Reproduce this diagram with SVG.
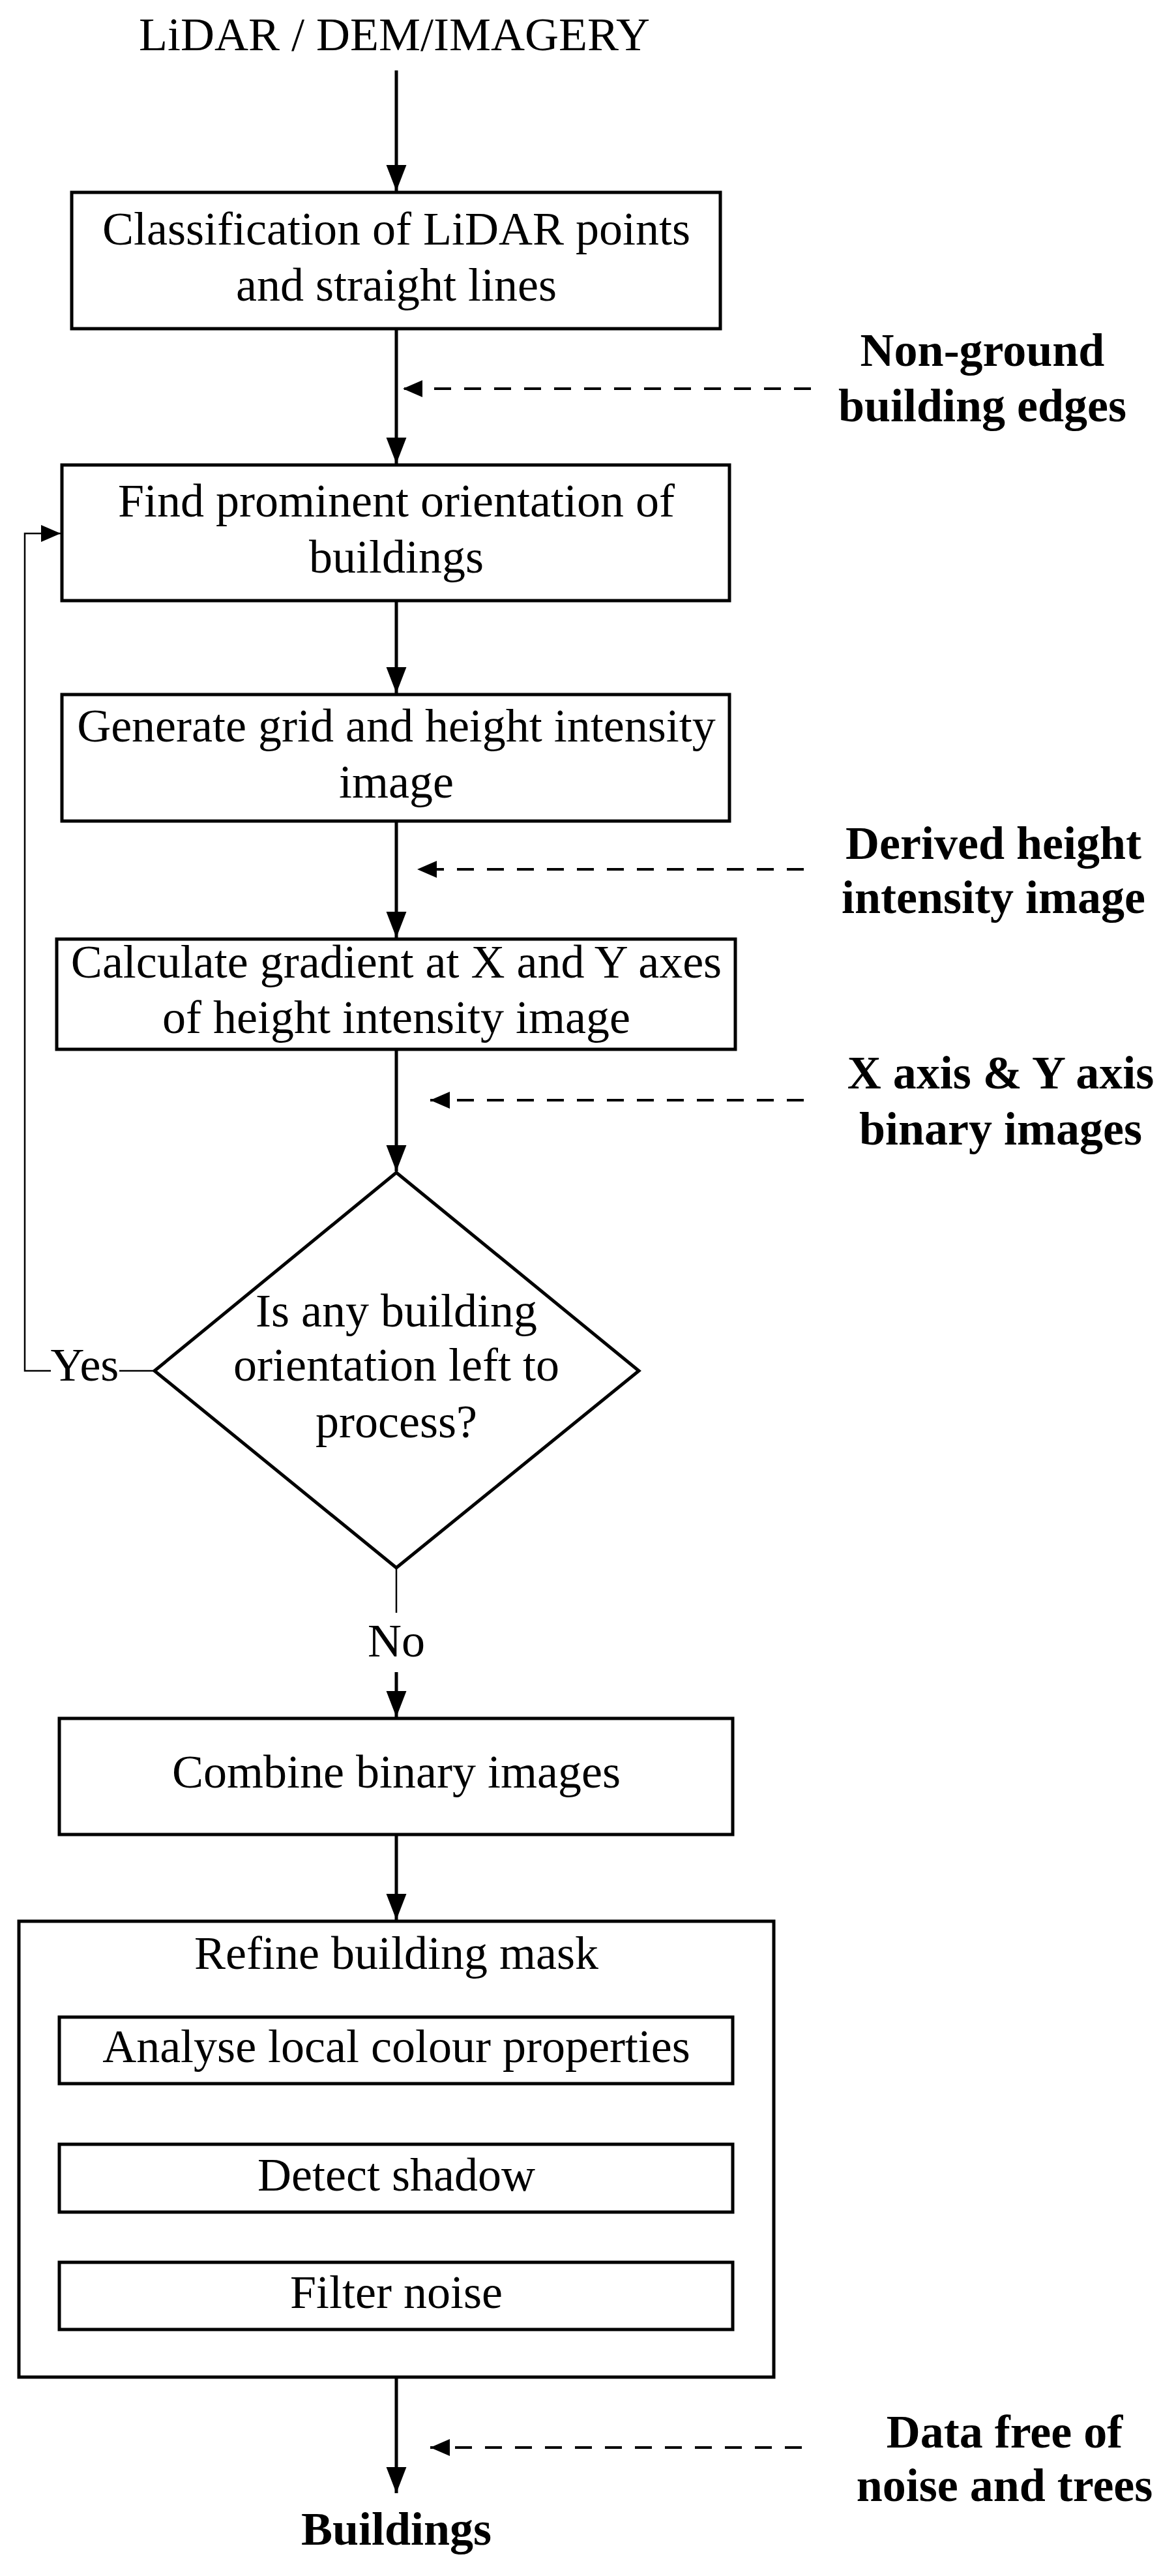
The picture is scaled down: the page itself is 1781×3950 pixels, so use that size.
<svg xmlns="http://www.w3.org/2000/svg" width="1781" height="3950" viewBox="0 0 1781 3950">
<style>
text{font-family:"Liberation Serif","Times New Roman",serif;font-size:72px;fill:#000;text-anchor:middle}
.b{font-weight:bold}
.box{fill:#fff;stroke:#000;stroke-width:5}
.ln{fill:none;stroke:#000;stroke-width:5}
.thin{fill:none;stroke:#000;stroke-width:2.5}
.dash{fill:none;stroke:#000;stroke-width:4;stroke-dasharray:26 20}
</style>
<defs>
<marker id="ah" markerUnits="userSpaceOnUse" markerWidth="40" markerHeight="50" refX="44" refY="17" orient="auto" viewBox="0 0 44 34"><path d="M0,0 L44,17 L0,34 Z" fill="#000"/></marker>
<marker id="ahs" markerUnits="userSpaceOnUse" markerWidth="30" markerHeight="30" refX="30" refY="13" orient="auto" viewBox="0 0 30 26"><path d="M0,0 L30,13 L0,26 Z" fill="#000"/></marker>
</defs>
<rect width="1781" height="3950" fill="#fff"/>
<g id="connectors">
<line class="ln" x1="608" y1="108" x2="608" y2="293" marker-end="url(#ah)"/>
<line class="ln" x1="608" y1="504" x2="608" y2="711" marker-end="url(#ah)"/>
<line class="dash" x1="1244" y1="596" x2="618" y2="596" marker-end="url(#ahs)"/>
<line class="ln" x1="608" y1="921" x2="608" y2="1063" marker-end="url(#ah)"/>
<line class="dash" x1="1233" y1="1333" x2="640" y2="1333" marker-end="url(#ahs)"/>
<line class="ln" x1="608" y1="1259" x2="608" y2="1438" marker-end="url(#ah)"/>
<line class="dash" x1="1233" y1="1687" x2="660" y2="1687" marker-end="url(#ahs)"/>
<line class="ln" x1="608" y1="1609" x2="608" y2="1796" marker-end="url(#ah)"/>
<polyline class="thin" points="78,2102 38,2102 38,818 93,818" marker-end="url(#ahs)"/>
<line class="thin" x1="183" y1="2102" x2="237" y2="2102"/>
<line class="thin" x1="608" y1="2404" x2="608" y2="2473"/>
<line class="ln" x1="608" y1="2564" x2="608" y2="2633" marker-end="url(#ah)"/>
<line class="ln" x1="608" y1="2813" x2="608" y2="2944" marker-end="url(#ah)"/>
<line class="thin" x1="608" y1="3195" x2="608" y2="3286" marker-end="url(#ahs)"/>
<line class="thin" x1="608" y1="3392" x2="608" y2="3467" marker-end="url(#ahs)"/>
<line class="ln" x1="608" y1="3645" x2="608" y2="3823" marker-end="url(#ah)"/>
<line class="dash" x1="1230" y1="3753" x2="660" y2="3753" marker-end="url(#ahs)"/>
</g>
<g id="input"><text x="605" y="77">LiDAR / DEM/IMAGERY</text></g>
<g id="classify"><rect class="box" x="110" y="295" width="995" height="209"/><text x="608" y="375">Classification of LiDAR points</text><text x="608" y="461">and straight lines</text></g>
<g id="lbl-nonground"><text class="b" x="1507" y="561">Non-ground</text><text class="b" x="1507" y="646">building edges</text></g>
<g id="orientation"><rect class="box" x="95" y="713" width="1024" height="208"/><text x="608" y="792">Find prominent orientation of</text><text x="608" y="878">buildings</text></g>
<g id="grid"><rect class="box" x="95" y="1065" width="1024" height="194"/><text x="608" y="1137">Generate grid and height intensity</text><text x="608" y="1223">image</text></g>
<g id="lbl-derived"><text class="b" x="1524" y="1317">Derived height</text><text class="b" x="1524" y="1400">intensity image</text></g>
<g id="gradient"><rect class="box" x="87" y="1440" width="1041" height="169"/><text x="608" y="1499">Calculate gradient at X and Y axes</text><text x="608" y="1584">of height intensity image</text></g>
<g id="lbl-xy"><text class="b" x="1535" y="1669">X axis &amp; Y axis</text><text class="b" x="1535" y="1755">binary images</text></g>
<g id="decision"><polygon class="box" stroke-width="3" points="608,1798 980,2102 608,2404 237,2102"/><text x="608" y="2034">Is any building</text><text x="608" y="2117">orientation left to</text><text x="608" y="2204">process?</text></g>
<g id="lbl-yes"><text x="130" y="2117">Yes</text></g>
<g id="lbl-no"><text x="608" y="2540">No</text></g>
<g id="combine"><rect class="box" x="91" y="2635" width="1033" height="178"/><text x="608" y="2741">Combine binary images</text></g>
<g id="refine"><rect class="box" x="29" y="2946" width="1158" height="699"/><text x="608" y="3019">Refine building mask</text></g>
<g id="analyse"><rect class="box" x="91" y="3093" width="1033" height="102"/><text x="608" y="3162">Analyse local colour properties</text></g>
<g id="shadow"><rect class="box" x="91" y="3288" width="1033" height="104"/><text x="608" y="3359">Detect shadow</text></g>
<g id="filter"><rect class="box" x="91" y="3469" width="1033" height="103"/><text x="608" y="3539">Filter noise</text></g>
<g id="lbl-data"><text class="b" x="1541" y="3753">Data free of</text><text class="b" x="1541" y="3835">noise and trees</text></g>
<g id="buildings"><text class="b" x="608" y="3902">Buildings</text></g>
</svg>
